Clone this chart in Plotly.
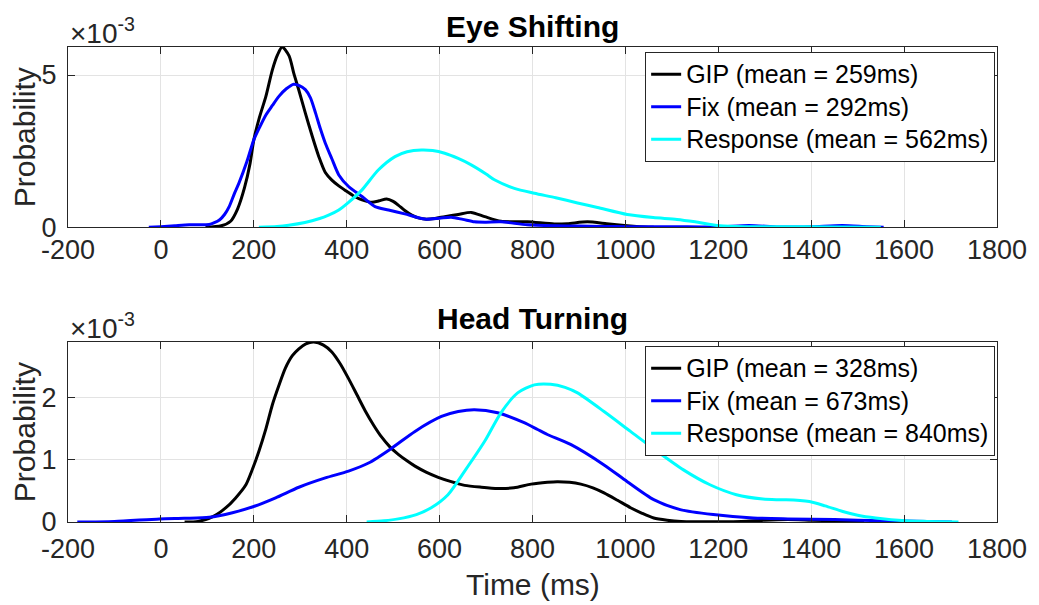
import plotly.graph_objects as go

# ---------------- data (probability values in units of 1e-3) ----------------
eye_gip_x = [96, 130, 150, 165, 180, 192, 200, 212, 226, 240, 251, 261, 276, 286, 297, 311, 326, 340,
             354, 368, 383, 397, 415, 433, 454, 470, 486, 500, 511, 525, 540, 554, 568, 590, 611, 640,
             668, 697, 732, 789, 847, 875, 918, 960, 1004, 1030, 1061]
eye_gip_y = [0, 0.05, 0.2, 0.6, 1.3, 2.1, 2.87, 3.6, 4.3, 5.17, 5.66, 5.92, 5.63, 5.06, 4.5, 3.75, 2.98, 2.32,
             1.80, 1.55, 1.36, 1.21, 1.03, 0.9, 0.82, 0.87, 0.93, 0.85, 0.73, 0.55, 0.40, 0.31, 0.27, 0.29, 0.35, 0.42,
             0.49, 0.35, 0.2, 0.18, 0.11, 0.12, 0.18, 0.12, 0.05, 0.02, 0]

eye_fix_x = [-26, 0, 30, 61, 104, 115, 126, 137, 147, 158, 168, 185, 200, 213, 226, 240, 254, 270, 286, 298,
             311, 322, 333, 343, 354, 368, 383, 404, 433, 461, 490, 525, 568, 600, 625, 650, 675, 700, 732,
             789, 850, 900, 950, 1004, 1100, 1200, 1266, 1330, 1400, 1467, 1520, 1556]
eye_fix_y = [0, 0.02, 0.05, 0.08, 0.09, 0.15, 0.24, 0.42, 0.68, 1.1, 1.45, 2.15, 2.87, 3.3, 3.69, 4.0, 4.3, 4.55, 4.70, 4.65,
             4.52, 4.25, 3.75, 3.25, 2.76, 2.25, 1.72, 1.34, 1.01, 0.68, 0.57, 0.44, 0.27, 0.30, 0.33, 0.26, 0.18, 0.17, 0.18,
             0.08, 0.05, 0.04, 0.03, 0.02, 0.02, 0.01, 0.06, 0.01, 0.02, 0.06, 0.02, 0]

eye_resp_x = [211, 250, 275, 310, 340, 361, 383, 404, 433, 468, 504, 530, 561, 585, 611, 640, 668, 700, 718,
              761, 804, 850, 897, 940, 1004, 1060, 1111, 1150, 1203, 1260, 1350, 1450, 1550]
eye_resp_y = [0, 0.03, 0.07, 0.16, 0.28, 0.40, 0.57, 0.82, 1.23, 1.88, 2.32, 2.48, 2.54, 2.52, 2.43, 2.26, 2.05, 1.75, 1.56,
              1.28, 1.12, 0.97, 0.8, 0.65, 0.42, 0.32, 0.26, 0.18, 0.05, 0.02, 0.02, 0.01, 0]

head_gip_x = [51, 80, 104, 120, 140, 160, 183, 197, 211, 226, 240, 254, 268, 283, 297, 312, 329, 350, 368, 386,
              404, 422, 440, 458, 475, 493, 511, 529, 547, 572, 597, 625, 654, 690, 725, 760, 797, 832, 853,
              880, 904, 930, 954, 983, 1011, 1036, 1061, 1090, 1120, 1150, 1200, 1250, 1300, 1350, 1400, 1450, 1514]
head_gip_y = [0, 0.01, 0.06, 0.12, 0.23, 0.38, 0.60, 0.85, 1.14, 1.5, 1.89, 2.2, 2.48, 2.68, 2.79, 2.87, 2.90, 2.85, 2.74, 2.55,
              2.31, 2.05, 1.79, 1.56, 1.37, 1.21, 1.09, 0.99, 0.90, 0.80, 0.72, 0.65, 0.59, 0.56, 0.54, 0.55, 0.61, 0.64, 0.65,
              0.64, 0.61, 0.55, 0.47, 0.35, 0.23, 0.14, 0.065, 0.03, 0.01, 0.005, 0.005, 0.01, 0.03, 0.04, 0.03, 0.02, 0.01]

head_fix_x = [-180, -100, -3, 50, 104, 154, 200, 247, 297, 354, 404, 447, 497, 547, 604, 640, 675, 725, 782,
              811, 832, 882, 954, 1004, 1061, 1118, 1189, 1275, 1350, 1450, 1550, 1650, 1703]
head_fix_y = [0, 0.01, 0.05, 0.06, 0.075, 0.15, 0.25, 0.39, 0.56, 0.71, 0.82, 0.95, 1.19, 1.46, 1.70, 1.78, 1.81, 1.76, 1.60,
              1.49, 1.41, 1.25, 0.92, 0.65, 0.36, 0.20, 0.12, 0.065, 0.05, 0.04, 0.02, 0.01, 0]

head_resp_x = [443, 480, 511, 550, 582, 618, 654, 697, 732, 768, 804, 839, 870, 897, 954, 1011, 1068, 1125,
               1182, 1239, 1296, 1325, 1346, 1396, 1430, 1468, 1500, 1539, 1603, 1650, 1717]
head_resp_y = [0, 0.02, 0.05, 0.12, 0.23, 0.44, 0.82, 1.30, 1.76, 2.08, 2.21, 2.22, 2.17, 2.08, 1.78, 1.46, 1.14, 0.84,
               0.60, 0.44, 0.37, 0.36, 0.36, 0.33, 0.26, 0.17, 0.11, 0.065, 0.02, 0.01, 0]

eye_names = ["GIP (mean = 259ms)", "Fix (mean = 292ms)", "Response (mean = 562ms)"]
head_names = ["GIP (mean = 328ms)", "Fix (mean = 673ms)", "Response (mean = 840ms)"]
colors = ["#000000", "#0000ff", "#00ffff"]
titles = ["Eye Shifting", "Head Turning"]
x_ticks = [-200, 0, 200, 400, 600, 800, 1000, 1200, 1400, 1600, 1800]
eye_yticks = [0, 5]
head_yticks = [0, 1, 2]
eye_ymax = 5.92
head_ymax = 2.90
SCALE = 1e-3

FONT = "Arial, Liberation Sans, Helvetica, sans-serif"
AXC = "#262626"

fig = go.Figure()

eye_data = [(eye_gip_x, eye_gip_y), (eye_fix_x, eye_fix_y), (eye_resp_x, eye_resp_y)]
head_data = [(head_gip_x, head_gip_y), (head_fix_x, head_fix_y), (head_resp_x, head_resp_y)]


def legend_label(s):
    return '<span style="font-size:25px">%s</span>' % s


for (xs, ys), name, c in zip(eye_data, eye_names, colors):
    fig.add_trace(go.Scatter(x=xs, y=[v * SCALE for v in ys], mode="lines", name=legend_label(name),
                             line=dict(color=c, width=3, shape="spline", smoothing=0.7),
                             xaxis="x", yaxis="y", legend="legend"))
for (xs, ys), name, c in zip(head_data, head_names, colors):
    fig.add_trace(go.Scatter(x=xs, y=[v * SCALE for v in ys], mode="lines", name=legend_label(name),
                             line=dict(color=c, width=3, shape="spline", smoothing=0.7),
                             xaxis="x2", yaxis="y2", legend="legend2"))

top_dom = [0.6204, 1.0]
bot_dom = [0.0, 0.3789]


def xaxis(anchor, standoff):
    return dict(range=[-200, 1800], tickvals=x_ticks, ticktext=[str(t) for t in x_ticks],
                domain=[0, 1], anchor=anchor, showline=True, linecolor=AXC, linewidth=1,
                mirror="ticks", ticks="inside", ticklen=7, tickcolor=AXC, tickwidth=1,
                showgrid=True, gridcolor="#e3e3e3", gridwidth=1, zeroline=False,
                tickfont=dict(family=FONT, size=27, color=AXC), ticklabelstandoff=standoff)


def yaxis(anchor, dom, ymax, ticks):
    return dict(range=[0, ymax * SCALE], tickvals=[t * SCALE for t in ticks], ticktext=[str(t) for t in ticks],
                domain=dom, anchor=anchor, showline=True, linecolor=AXC, linewidth=1,
                mirror="ticks", ticks="inside", ticklen=7, tickcolor=AXC, tickwidth=1,
                showgrid=True, gridcolor="#e3e3e3", gridwidth=1, zeroline=False,
                tickfont=dict(family=FONT, size=27, color=AXC), ticklabelstandoff=5)


legend_common = dict(bgcolor="white", bordercolor=AXC, borderwidth=1,
                     font=dict(family=FONT, size=22.7, color="black"),
                     xanchor="right", yanchor="top", x=0.998, itemwidth=30,
                     tracegroupgap=0)

annotations = []
for title, ytop in zip(titles, [1.0442, 0.4274]):
    annotations.append(dict(text="<b>%s</b>" % title, xref="paper", yref="paper", x=0.5, y=ytop,
                            xanchor="center", yanchor="middle", showarrow=False,
                            font=dict(family=FONT, size=30, color="black")))
for yd in [top_dom, bot_dom]:
    annotations.append(dict(text="×10<sup>-3</sup>", xref="paper", yref="paper", x=0.0, y=yd[1],
                            xanchor="left", yanchor="bottom", showarrow=False, yshift=-4,
                            font=dict(family=FONT, size=28, color=AXC)))
    annotations.append(dict(text="Probability", xref="paper", yref="paper", x=-0.0472, y=(yd[0] + yd[1]) / 2,
                            xanchor="center", yanchor="middle", textangle=-90, showarrow=False,
                            font=dict(family=FONT, size=30, color=AXC)))
annotations.append(dict(text="Time (ms)", xref="paper", yref="paper", x=0.5, y=-0.1326,
                        xanchor="center", yanchor="middle", showarrow=False,
                        font=dict(family=FONT, size=30, color=AXC)))

fig.update_layout(
    width=1039, height=605,
    margin=dict(l=68, r=39, t=47, b=83),
    paper_bgcolor="white", plot_bgcolor="white",
    xaxis=xaxis("y", -2), yaxis=yaxis("x", top_dom, eye_ymax, eye_yticks),
    xaxis2=xaxis("y2", 3), yaxis2=yaxis("x2", bot_dom, head_ymax, head_yticks),
    legend=dict(legend_common, y=0.9895),
    legend2=dict(legend_common, y=0.3705),
    annotations=annotations,
    showlegend=True,
)

fig.write_html("out.html")
